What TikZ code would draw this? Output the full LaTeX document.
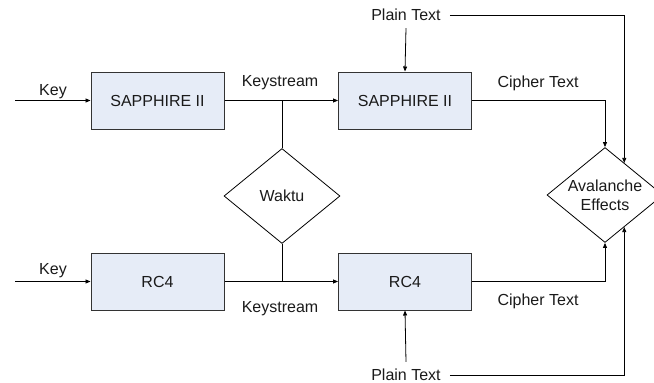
\documentclass[tikz,border=0pt]{standalone}
\usepackage{fontspec}
\setmainfont{Liberation Sans}
\usetikzlibrary{shapes.geometric,arrows.meta,calc}
\definecolor{boxfill}{HTML}{E6ECF7}
\definecolor{boxline}{HTML}{333333}
\definecolor{txt}{HTML}{1A1A1A}
\begin{document}
\begin{tikzpicture}[x=1pt,y=-1pt,
  every node/.style={font=\fontsize{16}{19}\selectfont, text=txt},
  blk/.style={draw=boxline, fill=boxfill, line width=1pt, minimum width=133pt, minimum height=57pt, inner sep=0pt},
  dia/.style={draw=black, diamond, line width=0.8pt, inner sep=0pt, minimum width=116pt, minimum height=95pt},
  lbl/.style={inner sep=2pt},
  conn/.style={draw=black, line width=0.8pt},
  arr/.style={conn, -{Triangle[length=5pt,width=4pt]}}]
\useasboundingbox (0,0) rectangle (654,383);

% blocks
\node[blk] (s1) at (157.5,100.5) {SAPPHIRE II};
\node[blk] (s2) at (405,100.5) {SAPPHIRE II};
\node[blk] (r1) at (157.5,281.5) {RC4};
\node[blk] (r2) at (405,281.5) {RC4};
\node[dia, label={[align=center]center:Waktu}] (wak) at (282,196) {};
\node[dia, label={[align=center, font=\fontsize{16}{19}\selectfont]center:Avalanche\\Effects}] (ava) at (605,195) {};

% labels
\node[lbl] (key1) at (53,92) {Key};
\node[lbl] (key2) at (53,271) {Key};
\node[lbl] (ks1) at (280,83) {Keystream};
\node[lbl] (ks2) at (280,309) {Keystream};
\node[lbl] (ct1) at (538,83) {Cipher Text};
\node[lbl] (ct2) at (538,301) {Cipher Text};
\node[lbl] (pt1) at (406,15) {Plain Text};
\node[lbl] (pt2) at (406,375) {Plain Text};

% inputs
\coordinate (k1) at (15,100.5);
\coordinate (k2) at (15,281.5);
\draw[arr] (k1) -- (s1.west);
\draw[arr] (k2) -- (r1.west);

% keystreams
\draw[arr] (s1.east) -- (s2.west);
\draw[arr] (r1.east) -- (r2.west);
\draw[conn] (wak.north) -- (wak.north |- s1.east);
\draw[conn] (wak.south) -- (wak.south |- r1.east);

% plain text into ciphers
\draw[arr] ([yshift=-5pt]pt1.south) -- (s2.north);
\draw[arr] ([yshift=5pt]pt2.north) -- (r2.south);

% cipher text to avalanche
\draw[arr] (s2.east) -| (ava.north);
\draw[arr] (r2.east) -| (ava.south);

% plain text to avalanche
\coordinate (ane) at ($(ava.north)!0.33!(ava.east)$);
\coordinate (ase) at ($(ava.south)!0.33!(ava.east)$);
\draw[arr] ([xshift=7pt]pt1.east) -| (ane);
\draw[arr] ([xshift=7pt]pt2.east) -| (ase);
\end{tikzpicture}
\end{document}
